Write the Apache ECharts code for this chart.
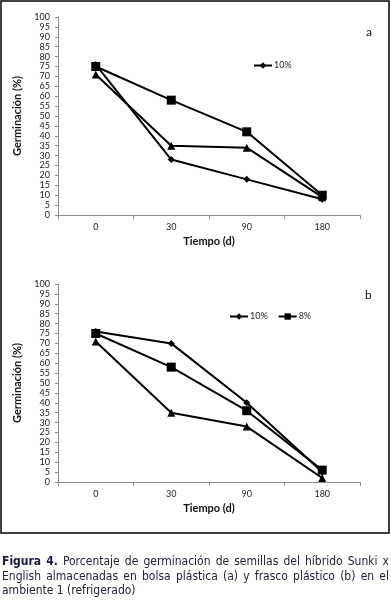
<!DOCTYPE html>
<html>
<head>
<meta charset="utf-8">
<script src="https://cdn.jsdelivr.net/npm/echarts@6/dist/echarts.min.js"></script>
<style>
  html, body { margin: 0; padding: 0; background: #fff; }
  #chart { width: 391px; height: 602px; }
</style>
</head>
<body>
<div id="chart"></div>
<script>
// tiempo de almacenamiento (d)
var dias = ['0', '30', '90', '180']
var yTicks = [0, 100, 5] // min, max, intervalo

// (a) bolsa plastica
var a10 = [76, 28, 18, 8]
var a8 = [75, 58, 42, 10]
var aTri = [71, 35, 34, 9]

// (b) frasco plastico
var b10 = [76, 70, 40, 5]
var b8 = [75, 58, 36, 6]
var bTri = [71, 35, 28, 2]

var legendA = ['10%']
var legendB = ['10%', '8%']

var caption = [
  [{ t: 'Figura', b: true }, { t: '4.', b: true }, 'Porcentaje', 'de', 'germinación', 'de', 'semillas', 'del', 'híbrido', 'Sunki', 'x'],
  ['English', 'almacenadas', 'en', 'bolsa', 'plástica', '(a)', 'y', 'frasco', 'plástico', '(b)', 'en', 'el'],
  ['ambiente', '1', '(refrigerado)']
]

var labelFont = 'Lato'
var capFont = '"Liberation Sans Narrow", "DejaVu Sans Condensed", sans-serif'

var chart = echarts.init(document.getElementById('chart'), null, { renderer: 'canvas' })

function xAx(i) {
  return {
    type: 'category',
    gridIndex: i,
    data: dias,
    boundaryGap: true,
    name: 'Tiempo (d)',
    nameLocation: 'middle',
    nameGap: 21,
    nameTextStyle: { fontFamily: labelFont, fontWeight: 'bold', fontSize: 11, color: '#111' },
    axisLine: { lineStyle: { color: '#8c8c8c', width: 1 } },
    axisTick: { show: true, length: 4, lineStyle: { color: '#8c8c8c' } },
    axisLabel: { margin: 8, fontFamily: labelFont, fontSize: 9, color: '#222' },
    splitLine: { show: false }
  }
}

function yAx(i) {
  return {
    type: 'value',
    gridIndex: i,
    min: yTicks[0],
    max: yTicks[1],
    interval: yTicks[2],
    name: 'Germinación (%)',
    nameLocation: 'middle',
    nameGap: 29,
    nameTextStyle: { fontFamily: labelFont, fontWeight: 'bold', fontSize: 11, color: '#111' },
    axisLine: { show: true, lineStyle: { color: '#8c8c8c', width: 1 } },
    axisTick: { show: true, length: 3, lineStyle: { color: '#8c8c8c' } },
    axisLabel: { margin: 8, fontFamily: labelFont, fontSize: 9, color: '#222' },
    splitLine: { show: false }
  }
}

function serie(name, sym, size, data, i) {
  return {
    name: name,
    type: 'line',
    xAxisIndex: i,
    yAxisIndex: i,
    data: data,
    symbol: sym,
    symbolSize: size,
    showAllSymbol: true,
    itemStyle: { color: '#000' },
    lineStyle: { color: '#000', width: 2 },
    emphasis: { disabled: true }
  }
}

// caption, justified by hand
var ctx = document.createElement('canvas').getContext('2d')
function measure(t, bold) {
  ctx.font = (bold ? 'bold ' : '') + '12px ' + capFont
  return ctx.measureText(t).width
}
var capGraphics = []
var capLeft = 2
var capRight = 389
var capY = [562, 576.5, 591]
caption.forEach(function(line, li) {
  var words = line.map(function(w) { return typeof w === 'string' ? { t: w, b: false } : w })
  var widths = words.map(function(w) { return measure(w.t, w.b) })
  var total = widths.reduce(function(s, v) { return s + v }, 0)
  var justify = li < caption.length - 1
  var gap = justify ? (capRight - capLeft - total) / (words.length - 1) : measure(' ', false)
  var x = capLeft
  words.forEach(function(w, wi) {
    capGraphics.push({
      type: 'text',
      x: x,
      y: capY[li],
      style: {
        text: w.t,
        font: (w.b ? 'bold ' : '') + '12px ' + capFont,
        fill: w.b ? '#1a1a40' : '#23233a',
        textVerticalAlign: 'middle'
      }
    })
    x += widths[wi] + gap
  })
})

chart.setOption({
  animation: false,
  backgroundColor: '#fff',
  grid: [
    { left: 58, right: 31, top: 17, height: 198 },
    { left: 58, right: 31, top: 284, height: 198 }
  ],
  xAxis: [xAx(0), xAx(1)],
  yAxis: [yAx(0), yAx(1)],
  legend: [
    {
      data: legendA,
      left: 253,
      top: 61,
      padding: 0,
      itemWidth: 18,
      itemHeight: 8,
      itemGap: 10,
      selectedMode: false,
      textStyle: { fontFamily: labelFont, fontSize: 9, color: '#222', padding: [0, 0, 0, -3] }
    },
    {
      data: legendB,
      left: 229,
      top: 312,
      padding: 0,
      itemWidth: 18,
      itemHeight: 8,
      itemGap: 10,
      selectedMode: false,
      textStyle: { fontFamily: labelFont, fontSize: 9, color: '#222', padding: [0, 0, 0, -3] }
    }
  ],
  series: [
    serie('10%', 'diamond', 7, a10, 0),
    serie('serie 3', 'triangle', 8, aTri, 0),
    serie('8%', 'rect', 9, a8, 0),
    serie('10%', 'diamond', 7, b10, 1),
    serie('serie 3', 'triangle', 8, bTri, 1),
    serie('8%', 'rect', 9, b8, 1)
  ],
  graphic: [
    {
      type: 'rect',
      shape: { x: 1, y: 1, width: 388, height: 532 },
      style: { fill: 'none', stroke: '#000', lineWidth: 1.5 },
      silent: true
    },
    { type: 'text', x: 366, y: 32, style: { text: 'a', font: '12px ' + labelFont, fill: '#111', textVerticalAlign: 'middle' } },
    { type: 'text', x: 365, y: 295, style: { text: 'b', font: '12px ' + labelFont, fill: '#111', textVerticalAlign: 'middle' } }
  ].concat(capGraphics)
})
</script>
</body>
</html>
